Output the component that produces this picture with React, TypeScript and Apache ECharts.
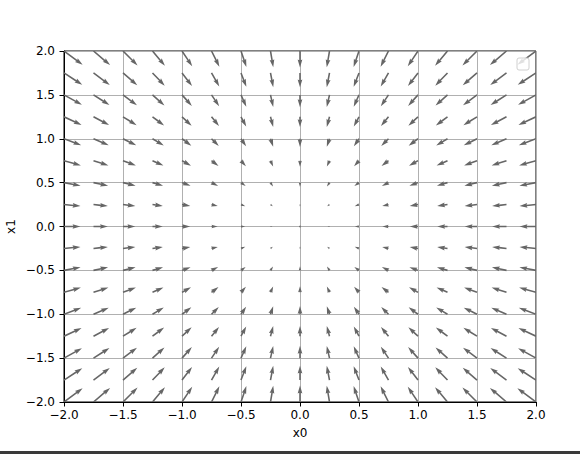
import React, { useEffect, useRef } from "react";
import * as echarts from "echarts";

// Grid positions of the arrows (data coordinates)
const gridX = [-2, -1.75, -1.5, -1.25, -1, -0.75, -0.5, -0.25, 0, 0.25, 0.5, 0.75, 1, 1.25, 1.5, 1.75, 2];
const gridY = [-2, -1.75, -1.5, -1.25, -1, -0.75, -0.5, -0.25, 0, 0.25, 0.5, 0.75, 1, 1.25, 1.5, 1.75, 2];
// Horizontal component of each arrow, per column (same order as gridX)
const uByColumn = [4, 3.5, 3, 2.5, 2, 1.5, 1, 0.5, 0, -0.5, -1, -1.5, -2, -2.5, -3, -3.5, -4];
// Vertical component of each arrow, per row (same order as gridY)
const vByRow = [4, 3.5, 3, 2.5, 2, 1.5, 1, 0.5, 0, -0.5, -1, -1.5, -2, -2.5, -3, -3.5, -4];

const xTitle = "x0";
const yTitle = "x1";

const FONT = "'DejaVu Sans', sans-serif";
const ARROW_COLOR = "#666666";
const PX_PER_UNIT = 4.1; // arrow screen length per unit of magnitude
const SHAFT_W = 1.57; // shaft width in px

function fmt(v: number) {
  return v.toFixed(1).replace("-", "\u2212");
}

export default function App() {
  const ref = useRef<HTMLDivElement>(null);
  useEffect(() => {
    if (!ref.current) return;
    const chart = echarts.init(ref.current, undefined, { renderer: "svg" });
    const data: number[][] = [];
    gridY.forEach((y, j) => {
      gridX.forEach((x, i) => {
        data.push([x, y, uByColumn[i], vByRow[j]]);
      });
    });

    const axisCommon = {
      type: "value" as const,
      min: -2,
      max: 2,
      interval: 0.5,
      nameLocation: "middle" as const,
      nameMoveOverlap: false,
      nameTextStyle: { color: "#000", fontFamily: FONT, fontSize: 12 },
      axisLine: { show: true, onZero: false, lineStyle: { color: "#000", width: 1 } },
      axisTick: { show: true, inside: false, length: 4.5, lineStyle: { color: "#000", width: 1 } },
      splitLine: { show: true, lineStyle: { color: "#b0b0b0", width: 1 } },
      axisLabel: {
        color: "#000",
        fontFamily: FONT,
        fontSize: 12,
        formatter: (v: number) => fmt(v),
      },
    };

    chart.setOption({
      animation: false,
      backgroundColor: "#ffffff",
      grid: {
        left: 64,
        top: 51,
        width: 472,
        height: 351,
        show: true,
        borderColor: "#000",
        borderWidth: 1,
        backgroundColor: "transparent",
        containLabel: false,
        outerBoundsMode: "none",
      },
      xAxis: {
        ...axisCommon,
        name: xTitle,
        nameGap: 25,
        axisLabel: { ...axisCommon.axisLabel, margin: 7 },
      },
      yAxis: {
        ...axisCommon,
        name: yTitle,
        nameGap: 47,
        axisLabel: { ...axisCommon.axisLabel, margin: 9 },
      },
      series: [
        {
          type: "custom",
          clip: true,
          z: 5,
          data,
          renderItem: (params: any, api: any) => {
            const x = api.value(0) as number;
            const y = api.value(1) as number;
            const u = api.value(2) as number;
            const v = api.value(3) as number;
            const p0 = api.coord([x, y]);
            const p1 = api.coord([x + u * 0.01, y + v * 0.01]);
            const dx = p1[0] - p0[0];
            const dy = p1[1] - p0[1];
            const dl = Math.hypot(dx, dy);
            const mag = Math.hypot(u, v);
            const Lw = (mag * PX_PER_UNIT) / SHAFT_W;
            if (Lw < 1 || dl === 0) {
              return {
                type: "circle",
                shape: { cx: p0[0], cy: p0[1], r: SHAFT_W / 2 },
                style: { fill: ARROW_COLOR },
              };
            }
            const minsh = 5;
            const L = Math.max(Lw, minsh);
            const s = Lw < minsh ? Lw / minsh : 1;
            const shape = [
              [0, -0.5],
              [L - 4.5, -0.5],
              [L - 5, -1.5],
              [L, 0],
              [L - 5, 1.5],
              [L - 4.5, 0.5],
              [0, 0.5],
            ];
            const ca = dx / dl;
            const sa = dy / dl;
            const pts = shape.map(([a, b]) => [
              p0[0] + (a * ca - b * sa) * SHAFT_W * s,
              p0[1] + (a * sa + b * ca) * SHAFT_W * s,
            ]);
            return {
              type: "polygon",
              shape: { points: pts },
              style: { fill: ARROW_COLOR, stroke: "none" },
            };
          },
        },
      ],
      graphic: [
        {
          type: "rect",
          z: 100,
          shape: { x: 517, y: 58, width: 12, height: 12, r: 2 },
          style: { fill: "rgba(255,255,255,0.8)", stroke: "#d0d0d0", lineWidth: 1 },
        },
        {
          type: "rect",
          z: 100,
          shape: { x: 0, y: 451, width: 580, height: 3 },
          style: { fill: "#3a3a3a" },
        },
      ],
    });
    return () => chart.dispose();
  }, []);
  return (
    <div
      ref={ref}
      style={{ position: "fixed", left: 0, top: 0, width: 580, height: 454 }}
    />
  );
}
